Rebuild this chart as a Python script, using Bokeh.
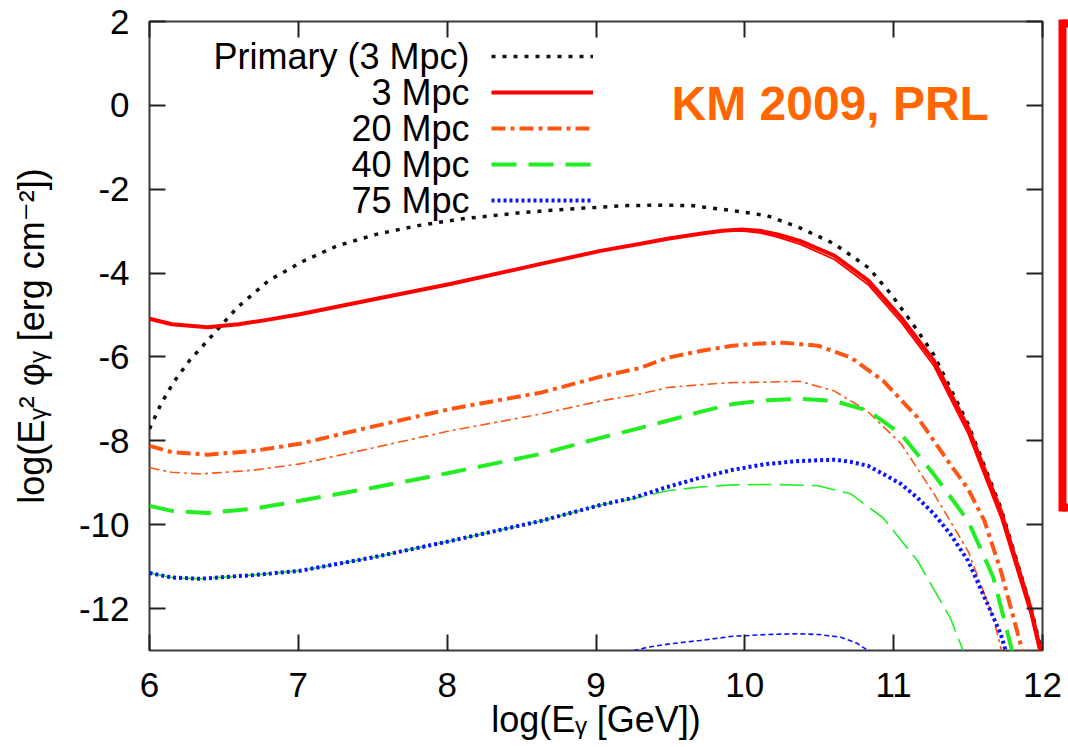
from bokeh.plotting import figure
from bokeh.models import (Range1d, LinearAxis, FixedTicker, Label, Legend, LegendItem,
                          CustomJSTickFormatter)
from bokeh.embed import file_html
from bokeh.resources import INLINE

# ---------------- data ----------------
x_ticks = [6, 7, 8, 9, 10, 11, 12]
y_ticks = [-12, -10, -8, -6, -4, -2, 0, 2]

primary_x = [6.00, 6.08, 6.16, 6.27, 6.39, 6.59, 6.80, 7.03, 7.26, 7.53, 7.80, 8.09, 8.52, 8.92,
             9.21, 9.45, 9.64, 9.92, 10.15, 10.37, 10.60, 10.83, 10.98, 11.16, 11.27, 11.50,
             11.72, 11.92, 12.00]
primary_y = [-7.72, -7.10, -6.61, -6.08, -5.61, -4.82, -4.18, -3.72, -3.35, -3.07, -2.87, -2.71,
             -2.55, -2.45, -2.39, -2.38, -2.39, -2.51, -2.63, -2.92, -3.30, -3.87, -4.49, -5.37,
             -5.95, -7.60, -9.60, -11.95, -13.10]

mpc3_x = [6.00, 6.15, 6.39, 6.60, 6.80, 7.01, 7.50, 8.02, 8.63, 9.03, 9.30, 9.48, 9.70, 9.85,
          9.98, 10.10, 10.22, 10.37, 10.60, 10.83, 11.05, 11.27, 11.50, 11.72, 11.92, 12.00]
mpc3_y = [-5.09, -5.22, -5.29, -5.22, -5.11, -4.98, -4.63, -4.26, -3.78, -3.47, -3.30, -3.18,
          -3.06, -2.99, -2.96, -2.99, -3.08, -3.23, -3.58, -4.18, -5.06, -6.09, -7.69, -9.67,
          -11.99, -13.20]
mpc3b_x = [6.00, 6.15, 6.39, 6.60, 6.80, 7.01, 7.50, 8.02, 8.63, 9.03, 9.30, 9.48, 9.70, 9.85,
           9.98, 10.10, 10.22, 10.37, 10.60, 10.83, 11.05, 11.27, 11.50, 11.72, 11.92, 11.99]
mpc3b_y = [-5.09, -5.22, -5.29, -5.22, -5.11, -4.98, -4.63, -4.26, -3.78, -3.47, -3.30, -3.18,
           -3.06, -3.00, -2.99, -3.04, -3.14, -3.31, -3.67, -4.28, -5.17, -6.21, -7.83, -9.83,
           -12.15, -13.20]

mpc20_x = [6.00, 6.15, 6.39, 6.70, 7.01, 7.50, 8.02, 8.63, 9.03, 9.30, 9.48, 9.70, 9.92, 10.10,
           10.26, 10.49, 10.71, 10.93, 11.16, 11.38, 11.50, 11.61, 11.72, 11.86, 11.90]
mpc20_y = [-8.12, -8.27, -8.33, -8.24, -8.07, -7.66, -7.24, -6.85, -6.47, -6.26, -6.02, -5.86,
           -5.73, -5.68, -5.66, -5.73, -6.01, -6.57, -7.44, -8.56, -9.15, -9.91, -11.10, -12.94,
           -13.50]
mpc20b_x = [6.00, 6.15, 6.34, 6.70, 7.01, 7.50, 8.02, 8.63, 9.03, 9.30, 9.48, 9.70, 9.92, 10.15,
            10.37, 10.60, 10.82, 11.05, 11.27, 11.50, 11.67, 11.72, 11.75]
mpc20b_y = [-8.64, -8.75, -8.79, -8.70, -8.55, -8.17, -7.76, -7.36, -7.05, -6.88, -6.73, -6.66,
            -6.61, -6.60, -6.58, -6.81, -7.28, -8.07, -9.26, -10.63, -12.22, -12.94, -13.40]

mpc40_x = [6.00, 6.15, 6.39, 6.70, 7.01, 7.50, 8.02, 8.63, 9.03, 9.30, 9.48, 9.70, 9.92, 10.15,
           10.37, 10.60, 10.83, 11.05, 11.27, 11.50, 11.67, 11.79, 11.82]
mpc40_y = [-9.55, -9.67, -9.72, -9.62, -9.43, -9.12, -8.76, -8.31, -7.93, -7.69, -7.52, -7.31,
           -7.12, -7.03, -7.00, -7.05, -7.28, -7.84, -8.80, -9.91, -11.26, -12.93, -13.40]
mpc40b_x = [6.00, 6.15, 6.34, 6.70, 7.01, 7.50, 8.02, 8.63, 9.03, 9.25, 9.48, 9.70, 9.92, 10.20,
            10.49, 10.71, 10.93, 11.16, 11.38, 11.46, 11.50]
mpc40b_y = [-11.15, -11.26, -11.29, -11.20, -11.10, -10.78, -10.39, -9.91, -9.53, -9.38, -9.19,
            -9.10, -9.05, -9.04, -9.07, -9.26, -9.84, -10.86, -12.22, -12.94, -13.30]

mpc75_x = [6.00, 6.15, 6.34, 6.70, 7.01, 7.50, 8.02, 8.63, 9.03, 9.25, 9.48, 9.70, 9.92, 10.15,
           10.37, 10.60, 10.71, 10.83, 10.93, 11.05, 11.16, 11.27, 11.38, 11.50, 11.60, 11.72,
           11.76]
mpc75_y = [-11.15, -11.26, -11.29, -11.20, -11.10, -10.78, -10.39, -9.91, -9.53, -9.36, -9.10,
           -8.88, -8.69, -8.55, -8.48, -8.45, -8.50, -8.60, -8.79, -9.03, -9.36, -9.74, -10.22,
           -10.86, -11.65, -12.61, -13.10]
mpc75b_x = [9.20, 9.35, 9.50, 9.70, 9.92, 10.15, 10.35, 10.50, 10.64, 10.75, 10.85]
mpc75b_y = [-13.05, -12.92, -12.84, -12.76, -12.66, -12.62, -12.60, -12.62, -12.68, -12.82, -13.05]

legend_names = ["Primary (3 Mpc)", "3 Mpc", "20 Mpc", "40 Mpc", "75 Mpc"]
x_title = "log(Eᵧ [GeV])"
y_title = "log(Eᵧ² φᵧ [erg cm⁻²])"

# ---------------- figure ----------------
FONT = "Liberation Sans, DejaVu Sans"
FL, FR, FT, FB = 149, 26, 21, 97
FW, FH = 1068 - FL - FR, 747 - FT - FB
X0, X1, Y0, Y1 = 6, 12, -13, 2

p = figure(frame_width=FW, frame_height=FH, output_backend="svg", toolbar_location=None,
           x_range=Range1d(X0, X1), y_range=Range1d(Y0, Y1),
           min_border_left=FL, min_border_right=FR, min_border_top=FT, min_border_bottom=FB,
           background_fill_color="white", border_fill_color="white")
p.grid.visible = False
p.outline_line_color = "#3a3a3a"
p.outline_line_width = 2


def cy(py):  # canvas pixel -> data y (for placing the decorative red frame)
    return Y1 - (py - FT) * (Y1 - Y0) / FH


def style_axis(ax, ticks, labels=True, standoff=20):
    ax.ticker = FixedTicker(ticks=ticks)
    ax.minor_tick_line_color = None
    ax.major_tick_in = 16
    ax.major_tick_out = 0
    ax.major_tick_line_width = 2
    ax.major_tick_line_color = "#222222"
    ax.axis_line_color = None
    ax.major_label_text_font = FONT
    ax.major_label_text_font_size = "35px"
    ax.major_label_text_color = "black"
    ax.major_label_standoff = standoff
    ax.axis_label_text_font = FONT
    ax.axis_label_text_font_size = "36px"
    ax.axis_label_text_font_style = "normal"
    ax.axis_label_text_color = "black"
    if labels:
        ax.major_label_overrides = {t: str(t) for t in ticks}
    else:
        ax.formatter = CustomJSTickFormatter(code="return ''")


style_axis(p.xaxis[0], x_ticks, standoff=22)
style_axis(p.yaxis[0], y_ticks, standoff=20)
p.xaxis[0].axis_label = x_title
p.xaxis[0].axis_label_standoff = -1
p.yaxis[0].axis_label = y_title
p.yaxis[0].axis_label_standoff = 24
top_ax = LinearAxis()
right_ax = LinearAxis()
style_axis(top_ax, x_ticks, labels=False)
style_axis(right_ax, y_ticks, labels=False)
# invisible spacer label so the next right axis sits ~20 px right of the frame
right_ax.axis_label = " "
right_ax.axis_label_text_font_size = "10px"
right_ax.axis_label_standoff = 6
p.add_layout(top_ax, "above")
p.add_layout(right_ax, "right")

# red frame at the right edge, drawn as a red axis line with red end ticks
red_ax = LinearAxis(bounds=(cy(507), cy(23)),
                    ticker=FixedTicker(ticks=[cy(507), cy(23)]),
                    formatter=CustomJSTickFormatter(code="return ''"),
                    axis_line_color="red", axis_line_width=8, axis_line_cap="square",
                    major_tick_in=0, major_tick_out=6, major_tick_line_color="red",
                    major_tick_line_width=8, minor_tick_line_color=None,
                    major_label_standoff=0)
p.add_layout(red_ax, "right")

# ---------------- curves ----------------
ORANGE = "#ff5512"
GREEN = "#22ee22"
BLUE = "#0a14ff"

r_prim = p.line(primary_x, primary_y, line_color="#111111", line_width=3.5, line_dash="4 7")
p.line(mpc20b_x, mpc20b_y, line_color=ORANGE, line_width=1.6, line_dash="10 4 3 4")
p.line(mpc40b_x, mpc40b_y, line_color=GREEN, line_width=1.6, line_dash="24 8")
p.line(mpc75b_x, mpc75b_y, line_color=BLUE, line_width=1.6, line_dash="5 3")
r40 = p.line(mpc40_x, mpc40_y, line_color=GREEN, line_width=4, line_dash="25 12")
r75 = p.line(mpc75_x, mpc75_y, line_color=BLUE, line_width=4, line_dash="3 3")
r20 = p.line(mpc20_x, mpc20_y, line_color=ORANGE, line_width=4, line_dash="14 5 4 5")
p.line(mpc3b_x, mpc3b_y, line_color="red", line_width=1.8)
r3 = p.line(mpc3_x, mpc3_y, line_color="red", line_width=4)

# ---------------- legend (samples via Legend, texts via Labels) ----------------
legend = Legend(items=[LegendItem(label=" ", renderers=[r]) for r in [r_prim, r3, r20, r40, r75]],
                location=(491 - FL, 650 - 218), glyph_width=102, glyph_height=36,
                label_height=36, label_width=0, label_standoff=0, spacing=0, padding=0, margin=0,
                border_line_color=None, background_fill_alpha=0, label_text_font_size="8px")
p.add_layout(legend)
for i, name in enumerate(legend_names):
    p.add_layout(Label(x=469 - FL, y=650 - (56 + 36 * i), x_units="screen", y_units="screen",
                       text=name, text_align="right", text_baseline="middle",
                       text_font=FONT, text_font_size="36px", text_color="black"))

p.add_layout(Label(x=671 - FL, y=650 - 103, x_units="screen", y_units="screen",
                   text="KM 2009, PRL", text_font=FONT, text_font_size="48px",
                   text_font_style="bold", text_color="#ff6600", text_baseline="alphabetic"))

open("out.html", "w").write(file_html(p, INLINE))
